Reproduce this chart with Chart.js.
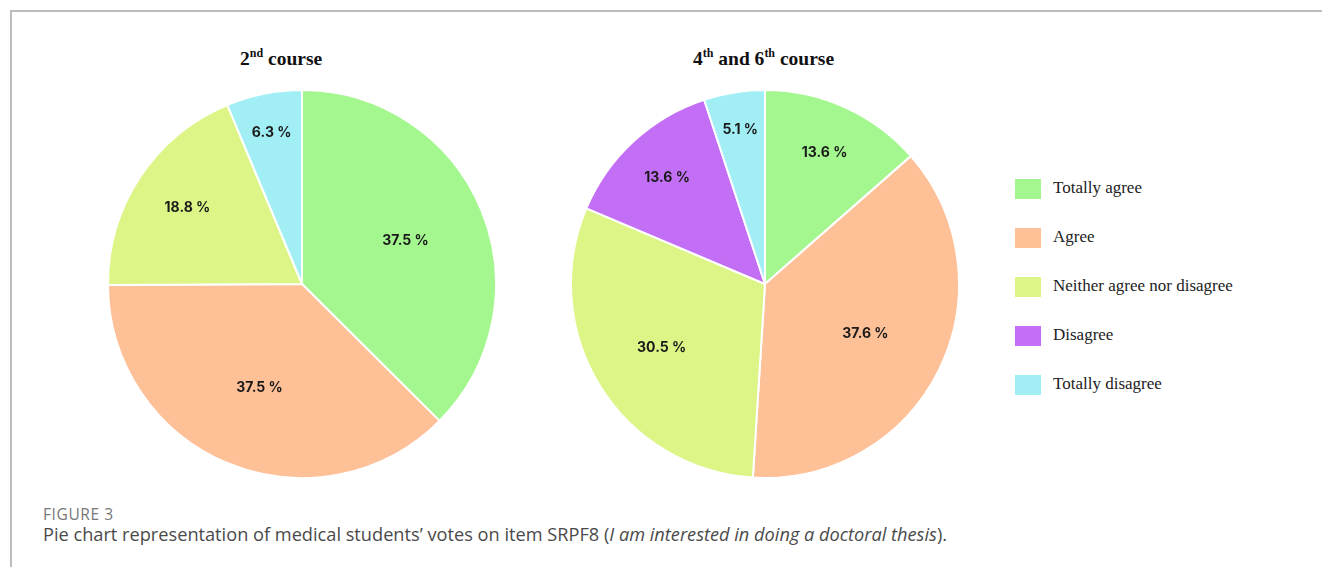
<!DOCTYPE html>
<html>
<head>
<meta charset="utf-8">
<script src="https://cdn.jsdelivr.net/npm/chart.js@4"></script>
<style>
  body { margin: 0; width: 1322px; height: 567px; background: #fff; position: relative; overflow: hidden; }
  .frame { position: absolute; left: 10px; top: 10px; width: 1330px; height: 600px; border-top: 2px solid #bdbdbd; border-left: 2px solid #bdbdbd; }
  .pie { position: absolute; width: 400px; height: 400px; top: 84px; }
  .title { position: absolute; top: 46px; font-family: "Liberation Serif", "Times New Roman", serif; font-weight: bold; font-size: 19.5px; color: #111; white-space: nowrap; }
  .title sup { font-size: 12px; }
  #legend { position: absolute; left: 1015px; top: 178px; font-family: "Liberation Serif", serif; font-size: 17px; color: #222; }
  .item { height: 49px; position: relative; }
  .box { position: absolute; left: 0; top: 1px; width: 26px; height: 20px; }
  .lab { position: absolute; left: 38px; top: 0px; white-space: nowrap; }
  .fig { position: absolute; left: 43px; top: 503px; font-family: "Open Sans", sans-serif; font-size: 15.5px; letter-spacing: 0.6px; color: #777; }
  .cap { position: absolute; left: 43px; top: 522px; font-family: "Open Sans", sans-serif; font-size: 18.2px; color: #4a4a4a; white-space: nowrap; }
</style>
</head>
<body>
<div class="frame"></div>
<div class="title" style="left:240px">2<sup>nd</sup> course</div>
<div class="title" style="left:693px">4<sup>th</sup> and 6<sup>th</sup> course</div>
<div class="pie" style="left:102px"><canvas id="pie1"></canvas></div>
<div class="pie" style="left:565px"><canvas id="pie2"></canvas></div>
<div id="legend"></div>
<div class="fig">FIGURE 3</div>
<div class="cap">Pie chart representation of medical students’ votes on item SRPF8 (<i>I am interested in doing a doctoral thesis</i>).</div>
<script>
var categories = ['Totally agree', 'Agree', 'Neither agree nor disagree', 'Disagree', 'Totally disagree'];
var course2 = [37.5, 37.5, 18.8, 0, 6.3];
var course46 = [13.6, 37.6, 30.5, 13.6, 5.1];
var colors = ['#a4f78f', '#fec097', '#ddf586', '#c36ff5', '#a1eff5'];

// percent labels inside slices, smaller slices a bit further out
var sliceLabels = {
    id: 'sliceLabels',
    afterDatasetsDraw(chart) {
        var ctx = chart.ctx;
        var meta = chart.getDatasetMeta(0);
        var vals = chart.data.datasets[0].data;
        ctx.save();
        ctx.font = 'bold 14px Inter';
        ctx.fillStyle = '#1a1a1a';
        ctx.textAlign = 'center';
        ctx.textBaseline = 'middle';
        meta.data.forEach((arc, i) => {
            if (!vals[i]) return;
            var p = arc.getProps(['x', 'y', 'startAngle', 'endAngle', 'outerRadius']);
            var mid = (p.startAngle + p.endAngle) / 2;
            var f = 0.84 - vals[i] / 100 * 0.7;
            var r = p.outerRadius * f;
            ctx.fillText(vals[i].toFixed(1) + ' %', p.x + Math.cos(mid) * r, p.y + Math.sin(mid) * r);
        });
        ctx.restore();
    }
};

function makePie(id, values) {
    new Chart(document.getElementById(id), {
        type: 'pie',
        data: {
            labels: categories,
            datasets: [{
                data: values,
                backgroundColor: colors,
                borderColor: '#ffffff',
                borderWidth: 2
            }]
        },
        options: {
            responsive: false,
            animation: false,
            layout: { padding: 5 },
            plugins: {
                legend: { display: false },
                tooltip: { enabled: false }
            }
        },
        plugins: [sliceLabels]
    });
}

document.getElementById('pie1').width = 400;
document.getElementById('pie1').height = 400;
document.getElementById('pie2').width = 400;
document.getElementById('pie2').height = 400;
makePie('pie1', course2);
makePie('pie2', course46);

var legend = document.getElementById('legend');
categories.forEach((c, i) => {
    var d = document.createElement('div');
    d.className = 'item';
    d.innerHTML = `<div class="box" style="background:${colors[i]}"></div><div class="lab">${c}</div>`;
    legend.appendChild(d);
});
</script>
</body>
</html>
